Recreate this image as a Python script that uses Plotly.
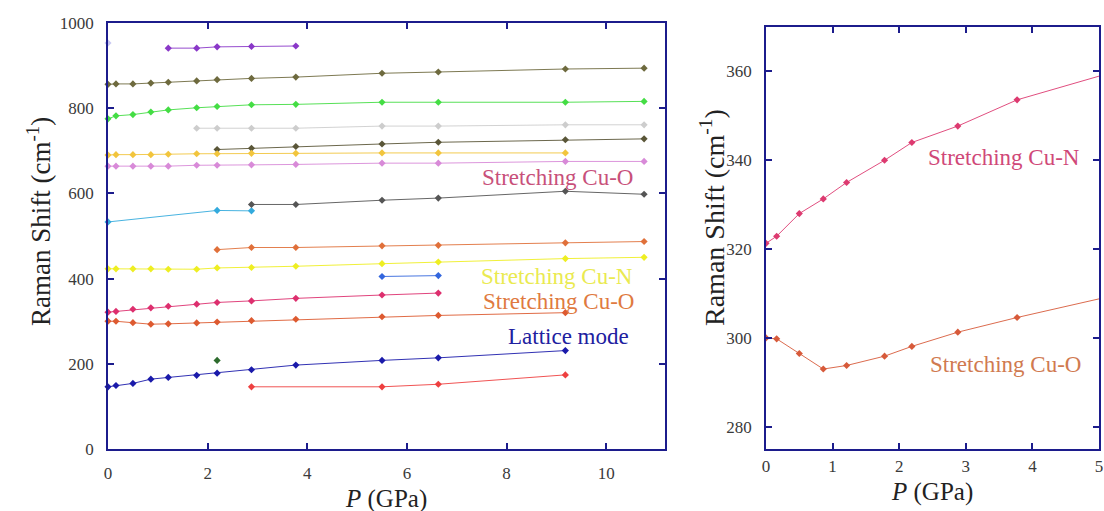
import plotly.graph_objects as go

# ---------------- data ----------------
pressure = [0, 0.16, 0.5, 0.86, 1.21, 1.78, 2.19, 2.88, 3.77, 5.5, 6.63, 9.18, 10.76]
N = None

lavender = [953, N, N, N, N, N, N, N, N, N, N, N, N]
purple = [N, N, N, N, 941, 941, 944, 945, 946, N, N, N, N]
olive = [856, 857, 857, 859, 861, 864, 867, 870, 873, 882, 885, 892, 894]
green = [775, 782, 785, 791, 796, 801, 804, 808, 809, 814, 814, 814, 816]
light_gray = [N, N, N, N, N, 753, 753, 753, 753, 758, 758, 761, 761]
dark_olive = [N, N, N, N, N, N, 703, 706, 710, 716, 720, 726, 728]
gold = [690, 691, 691, 691, 692, 693, 693, 694, 694, 695, 695, 695, N]
orchid = [664, 664, 664, 664, 664, 666, 666, 667, 668, 671, 671, 675, 675]
cyan = [533, N, N, N, N, N, 560, 559, N, N, N, N, N]
dark_gray = [N, N, N, N, N, N, N, 574, 574, 584, 589, 605, 598]
orange = [N, N, N, N, N, N, 468, 473, 473, 477, 478, 484, 487]
yellow = [423, 423, 423, 423, 422, 422, 425, 426, 429, 435, 439, 447, 450]
blue_short = [N, N, N, N, N, N, N, N, N, 405, 407, N, N]
cu_n = [321.3, 322.9, 328.0, 331.3, 335.0, 340.0, 344.0, 347.7, 353.6, 361.5, 366, N, N]
cu_o = [300.0, 299.8, 296.5, 293.0, 293.8, 295.9, 298.1, 301.3, 304.6, 310.5, 313.5, 320, N]
lattice = [146, 149, 154, 164, 168, 173, 178, 186, 197, 208, 214, 231, N]
dark_green = [N, N, N, N, N, N, 208, N, N, N, N, N, N]
red_low = [N, N, N, N, N, N, N, 146, N, 146, 152, 174, N]

left_series = [
    (lavender, "#c8c8f2"), (purple, "#8a38c8"), (olive, "#6e6a3e"),
    (green, "#44dd44"), (light_gray, "#cdcdcd"), (dark_olive, "#5a5638"),
    (gold, "#f2c53d"), (orchid, "#d88ad8"), (cyan, "#33aadd"),
    (dark_gray, "#555555"), (orange, "#e0703a"), (yellow, "#eeee22"),
    (blue_short, "#3366dd"), (cu_n, "#dd2f6e"), (cu_o, "#dd5a30"),
    (lattice, "#1a1aaa"), (dark_green, "#2d6b2d"), (red_low, "#ee4040"),
]

left_x_ticks = [0, 2, 4, 6, 8, 10]
left_y_ticks = [0, 200, 400, 600, 800, 1000]
right_x_ticks = [0, 1, 2, 3, 4, 5]
right_y_ticks = [280, 300, 320, 340, 360]

# ---------------- figure ----------------
W, H = 1104, 511
SERIF = "Liberation Serif"
AXIS_COLOR = "#1c1c8c"

fig = go.Figure()

for vals, col in left_series:
    fig.add_trace(go.Scatter(
        x=pressure, y=vals, mode="lines+markers", connectgaps=True,
        line=dict(color=col, width=0.9), marker=dict(color=col, size=5.5, symbol="diamond"),
        cliponaxis=False, xaxis="x", yaxis="y", showlegend=False, hoverinfo="x+y"))

for vals, col in [(cu_n, "#dd3a70"), (cu_o, "#d75a3a")]:
    fig.add_trace(go.Scatter(
        x=pressure, y=vals, mode="lines+markers", connectgaps=True,
        line=dict(color=col, width=0.9), marker=dict(color=col, size=5.5, symbol="diamond"),
        cliponaxis=True, xaxis="x2", yaxis="y2", showlegend=False, hoverinfo="x+y"))

def px_x(p):
    return p / W

def px_y(p):
    return 1 - p / H

axis_common = dict(
    showline=True, linecolor=AXIS_COLOR, linewidth=1.5, mirror="ticks",
    ticks="inside", ticklen=6, tickwidth=1.5, tickcolor=AXIS_COLOR,
    showgrid=False, zeroline=False, automargin=False,
    tickfont=dict(family=SERIF, size=17, color="#3a3a3a"),
)

fig.update_layout(
    width=W, height=H, margin=dict(l=0, r=0, t=0, b=0),
    paper_bgcolor="white", plot_bgcolor="white", showlegend=False,
    xaxis=dict(domain=[px_x(108), px_x(665)], range=[0, 11.18], tickvals=left_x_ticks,
               anchor="y", ticklabelstandoff=8, **axis_common),
    yaxis=dict(domain=[px_y(449), px_y(23)], range=[0, 1000], tickvals=left_y_ticks,
               anchor="x", ticklabelstandoff=9, **axis_common),
    xaxis2=dict(domain=[px_x(766), px_x(1099)], range=[0, 5], tickvals=right_x_ticks,
                anchor="y2", ticklabelstandoff=1, **axis_common),
    yaxis2=dict(domain=[px_y(449), px_y(27)], range=[275, 370], tickvals=right_y_ticks,
                anchor="x2", ticklabelstandoff=9, **axis_common),
)

ann = []
def label(text, x, y, xref, yref, color, size=23, angle=0):
    ann.append(dict(text=text, x=x, y=y, xref=xref, yref=yref, showarrow=False,
                    xanchor="center", yanchor="middle", textangle=angle,
                    font=dict(family=SERIF, size=size, color=color)))

label("Stretching Cu-O", 9.02, 638, "x", "y", "#c8507a")
label("Stretching Cu-N", 9.02, 406, "x", "y", "#eaea50")
label("Stretching Cu-O", 9.04, 347, "x", "y", "#e07a40")
label("Lattice mode", 9.24, 264, "x", "y", "#2020a0")
label("Stretching Cu-N", 3.58, 340.6, "x2", "y2", "#d04878")
label("Stretching Cu-O", 3.60, 294.0, "x2", "y2", "#d07a50")

ytitle = "Raman Shift (cm<sup>-1</sup>)"
xtitle = "<i>P</i> (GPa)"
label(ytitle, px_x(39), px_y(222), "paper", "paper", "#222222", size=27, angle=-90)
label(ytitle, px_x(712), px_y(218), "paper", "paper", "#222222", size=28, angle=-90)
label(xtitle, px_x(386), px_y(499), "paper", "paper", "#222222", size=25)
label(xtitle, px_x(932), px_y(492), "paper", "paper", "#222222", size=25)

fig.update_layout(annotations=ann)

fig.write_html("out.html", config={"displayModeBar": False},
               post_script="document.body.style.margin='0';")
